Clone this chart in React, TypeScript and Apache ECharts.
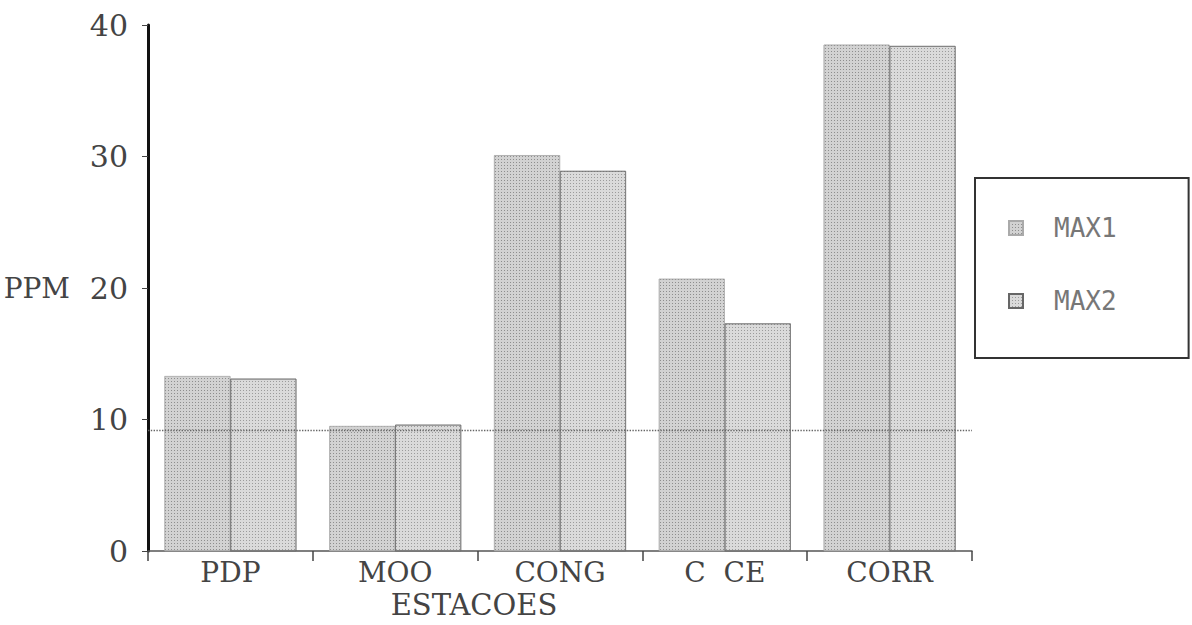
import React, { useEffect, useRef } from "react";
import * as echarts from "echarts";

const categories = ["PDP", "MOO", "CONG", "C  CE", "CORR"];
const max1 = [13.3, 9.5, 30.1, 20.7, 38.5];
const max2 = [13.1, 9.6, 28.9, 17.3, 38.4];
const refLevel = 9.2;
const yTicks = { min: 0, max: 40, interval: 10 };

const FONT = "DejaVu Serif";

export default function App() {
  const ref = useRef<HTMLDivElement>(null);
  useEffect(() => {
    if (!ref.current) return;
    const chart = echarts.init(ref.current, null, { renderer: "svg" });
    const barStyle = (base: string, dot: string, border: string) => ({
      color: base,
      borderColor: border,
      borderWidth: 0.6,
      decal: {
        symbol: "rect",
        symbolSize: 1,
        dashArrayX: [1, 2],
        dashArrayY: [1, 2],
        color: dot,
        rotation: 0,
      },
    });
    chart.setOption({
      animation: false,
      backgroundColor: "#ffffff",
      grid: { left: 148, right: 220, top: 25, bottom: 74 },
      legend: {
        orient: "vertical",
        left: 975,
        top: 178,
        padding: [37, 72, 44, 33],
        itemWidth: 14,
        itemHeight: 14,
        itemGap: 47,
        icon: "rect",
        borderColor: "#333",
        borderWidth: 2,
        textStyle: {
          fontFamily: "DejaVu Sans Mono",
          fontSize: 26,
          color: "#777",
          padding: [0, 0, 0, 26],
        },
        data: ["MAX1", "MAX2"],
      },
      xAxis: {
        type: "category",
        data: categories,
        name: "ESTACOES",
        nameLocation: "middle",
        nameGap: 37,
        nameTextStyle: {
          fontFamily: FONT,
          fontSize: 29,
          color: "#444",
          padding: [0, 172, 0, 0],
        },
        axisLine: { lineStyle: { color: "#555", width: 1.5 } },
        axisTick: { show: true, length: 10, lineStyle: { color: "#444", width: 1.5 } },
        axisLabel: { fontFamily: FONT, fontSize: 28, color: "#444", margin: 7 },
      },
      yAxis: {
        type: "value",
        min: yTicks.min,
        max: yTicks.max,
        interval: yTicks.interval,
        name: "PPM",
        nameLocation: "middle",
        nameRotate: 0,
        nameGap: 78,
        nameTextStyle: { fontFamily: FONT, fontSize: 28, color: "#444", align: "right" },
        axisLine: { show: true, lineStyle: { color: "#111", width: 3 } },
        axisTick: { show: true, length: 6, lineStyle: { color: "#444" } },
        splitLine: { show: false },
        axisLabel: { fontFamily: FONT, fontSize: 30, color: "#444", margin: 20 },
      },
      series: [
        {
          name: "MAX1",
          type: "bar",
          data: max1,
          barGap: "0%",
          barCategoryGap: "20%",
          itemStyle: barStyle("#d2d2d2", "rgba(60,60,60,0.45)", "#aaa"),
          markLine: {
            silent: true,
            symbol: "none",
            label: { show: false },
            lineStyle: { type: "dotted", color: "#666", width: 1.4 },
            data: [{ yAxis: refLevel }],
          },
        },
        {
          name: "MAX2",
          type: "bar",
          data: max2,
          itemStyle: barStyle("#dadada", "rgba(60,60,60,0.4)", "#666"),
        },
      ],
    });
    return () => chart.dispose();
  }, []);
  return <div ref={ref} style={{ width: 1192, height: 625, position: "absolute", left: 0, top: 0 }} />;
}
